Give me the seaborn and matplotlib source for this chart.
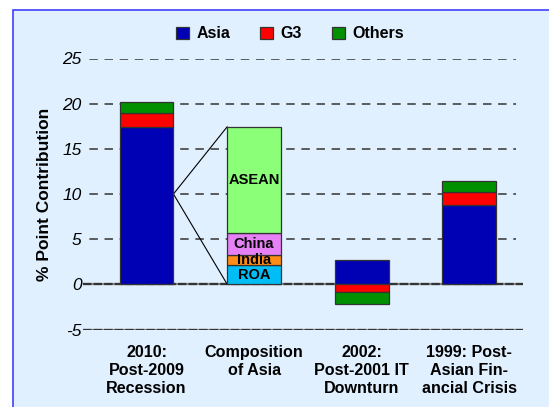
import numpy as np
import pandas as pd
import matplotlib
matplotlib.use("Agg")
import matplotlib.pyplot as plt
from matplotlib.patches import Patch, Rectangle
import seaborn as sns

sns.set_style("white")
plt.rcParams["font.family"] = ["Liberation Sans", "DejaVu Sans"]
plt.rcParams["lines.scale_dashes"] = False
plt.rcParams["axes.unicode_minus"] = False
plt.rcParams["text.color"] = "black"
plt.rcParams["xtick.labelcolor"] = "black"
plt.rcParams["ytick.labelcolor"] = "black"

# ----------------------------------------------------------------
# data
# ----------------------------------------------------------------
categories = ["2010:\nPost-2009\nRecession", "Composition\nof Asia",
              "2002:\nPost-2001 IT\nDownturn", "1999: Post-\nAsian Fin-\nancial Crisis"]
episode_cats = [categories[0], categories[2], categories[3]]
asia = [17.45, 2.7, 8.8]
g3 = [1.55, -0.8, 1.45]
others = [1.2, -1.38, 1.2]

comp_labels = ["ROA", "India", "China", "ASEAN"]
comp_values = [2.15, 1.1, 2.4, 11.8]

series_names = ["Asia", "G3", "Others"]
series_colors = ["#0000B4", "#FF0000", "#009000"]
comp_colors = ["#00BEF5", "#FF8C14", "#E680F5", "#8CFF78"]

# ----------------------------------------------------------------
# figure
# ----------------------------------------------------------------
fig = plt.figure(figsize=(5.49, 4.07), dpi=100)
fig.patch.set_facecolor("white")
fig.patches.append(Rectangle((13 / 549, -0.1), 1.2, 1 - 10 / 407 + 0.1,
                             transform=fig.transFigure, facecolor="#E0F0FF",
                             edgecolor="#4040FF", lw=1.2, zorder=-5))
ax = fig.add_axes([83 / 549, (407 - 329.5) / 407, 440 / 549, 271 / 407])
ax.set_facecolor("none")

edge = dict(edgecolor="#333333", linewidth=0.9)
width = 0.5

# stacked bars for the three episodes (negative values stack downward)
stack = np.array([asia, g3, others])
pos_base = np.zeros(len(asia))
neg_base = np.zeros(len(asia))
for vals, name, col in zip(stack, series_names, series_colors):
    bottoms = np.where(vals >= 0, pos_base, neg_base)
    df = pd.DataFrame({"cat": episode_cats, "val": vals})
    sns.barplot(data=df, x="cat", y="val", order=categories, color=col,
                saturation=1, width=width, errorbar=None, bottom=bottoms,
                ax=ax, zorder=3, **edge)
    pos_base = pos_base + np.clip(vals, 0, None)
    neg_base = neg_base + np.clip(vals, None, 0)

# composition of Asia
base = 0.0
for lab, val, col in zip(comp_labels, comp_values, comp_colors):
    df = pd.DataFrame({"cat": [categories[1]], "val": [val]})
    sns.barplot(data=df, x="cat", y="val", order=categories, color=col,
                saturation=1, width=width, errorbar=None, bottom=base,
                ax=ax, zorder=3, **edge)
    ax.text(1, base + val / 2, lab, ha="center", va="center",
            fontsize=10.5, fontweight="bold", zorder=5)
    base += val

# connector lines from the 2010 bar to the composition bar
ax.plot([width / 2, 1 - width / 2], [10, sum(comp_values)], color="black", lw=0.8, zorder=2)
ax.plot([width / 2, 1 - width / 2], [10, 0], color="black", lw=0.8, zorder=2)

# axes styling
ax.set_xlim(-0.591, 3.5)
ax.set_ylim(-5, 25)
ax.set_yticks(range(-5, 30, 5))
for y in range(5, 30, 5):
    ax.axhline(y, xmax=(516 - 83) / 440, color="#333333", lw=1.1,
               linestyle=(6.3, (6.1, 4.8)), zorder=1)
for y in (0, -5):
    ax.axhline(y, color="#888888", lw=1.6, zorder=1)
    ax.axhline(y, color="#333333", lw=1.6, linestyle=(0, (6.1, 1.5)), zorder=1)

for s in ax.spines.values():
    s.set_visible(False)
ax.tick_params(axis="y", direction="in", length=10.8, width=1.1, color="#333333",
               pad=1, labelsize=12.5, labelcolor="black")
ax.tick_params(axis="x", direction="out", length=5.8, width=1.0, color="#333333",
               pad=5.5, labelsize=11.6, labelcolor="black")
for t in ax.get_yticklabels():
    t.set_fontstyle("italic")
ax.set_xticks(range(len(categories)))
ax.set_xticklabels(categories, fontweight="bold", linespacing=1.25)
ax.set_xlabel("")
ax.set_ylabel("")
fig.text(45 / 549, 1 - 194 / 407, "% Point Contribution", rotation=90,
         ha="center", va="center", fontsize=12.5, fontweight="bold", color="black")

handles = [Patch(facecolor=c, **edge) for c in series_colors]
fig.legend(handles, series_names, loc="center", bbox_to_anchor=(290 / 549, 1 - 34 / 407),
           ncol=3, frameon=False, prop={"weight": "bold", "size": 11.5},
           labelcolor="black", handlelength=0.8, handleheight=0.75,
           handletextpad=0.45, columnspacing=1.9)

fig.savefig("out.png", dpi=100)
